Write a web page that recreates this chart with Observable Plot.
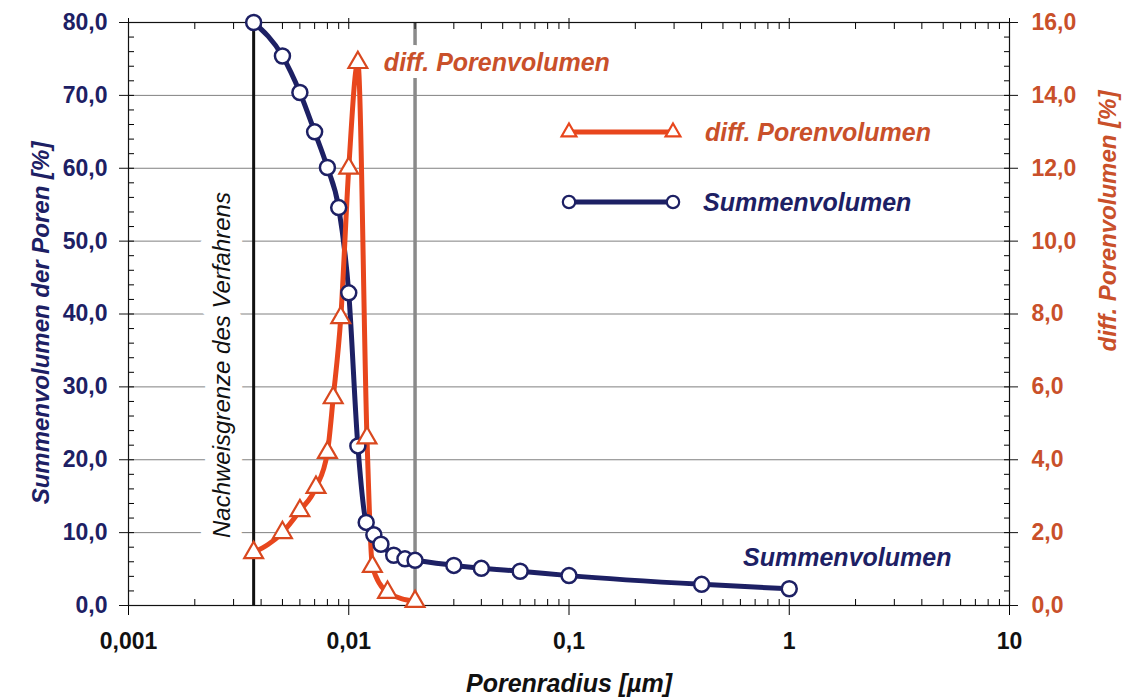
<!DOCTYPE html>
<html>
<head>
<meta charset="utf-8">
<script src="https://cdn.jsdelivr.net/npm/d3@7"></script>
<script src="https://cdn.jsdelivr.net/npm/@observablehq/plot@0.6"></script>
<style>
  html, body { margin: 0; padding: 0; background: #ffffff; }
  #wrap { position: relative; width: 1127px; height: 699px; font-family: "Liberation Sans", Arial, sans-serif; }
  #legend { position: absolute; left: 0; top: 0; pointer-events: none; }
</style>
</head>
<body>
<div id="wrap"><div id="chart"></div><svg id="legend" width="1127" height="699"></svg></div>
<script>
// ---- data ----
const summenRadius  = [0.0037, 0.005, 0.006, 0.007, 0.008, 0.009, 0.01, 0.011, 0.012, 0.013, 0.014, 0.016, 0.018, 0.02, 0.03, 0.04, 0.06, 0.1, 0.4, 1];
const summenVolumen = [80.0, 75.4, 70.4, 65.0, 60.1, 54.6, 42.9, 21.9, 11.4, 9.7, 8.4, 6.9, 6.4, 6.2, 5.5, 5.1, 4.7, 4.1, 2.9, 2.3];
const diffRadius    = [0.0037, 0.005, 0.006, 0.0071, 0.008, 0.0085, 0.0092, 0.01, 0.011, 0.0121, 0.0128, 0.015, 0.02];
const diffVolumen   = [1.45, 2.0, 2.6, 3.24, 4.2, 5.7, 7.9, 12.0, 14.9, 4.6, 1.07, 0.36, 0.11];
const xTicks        = [0.001, 0.01, 0.1, 1, 10];
const xTickLabels   = ["0,001", "0,01", "0,1", "1", "10"];
const leftTicks     = [0, 10, 20, 30, 40, 50, 60, 70, 80];
const rightTicks    = [0, 2, 4, 6, 8, 10, 12, 14, 16];
const nachweisgrenze = 0.0037;
const grauLinie      = 0.02;

const NAVY = "#1d2064";
const RED = "#e8461d";
const REDTXT = "#c9502a";
const ratio = leftTicks[leftTicks.length - 1] / rightTicks[rightTicks.length - 1]; // 5

const summen = summenRadius.map((r, i) => ({r, v: summenVolumen[i]}));
const diff = diffRadius.map((r, i) => ({r, v: diffVolumen[i] * ratio, raw: diffVolumen[i]}));
const peak = diff.reduce((a, b) => (b.v > a.v ? b : a));
const lastSum = summen[summen.length - 1];

// minor ticks
const minorX = [];
for (let e = -3; e < 1; e++) for (let k = 1; k <= 9; k++) minorX.push(k * Math.pow(10, e));
minorX.push(10);
const minorY = d3.range(0, 80.001, 2);

const fmt = d => d.toFixed(1).replace(".", ",");
const FONT = "Liberation Sans, Arial, sans-serif";

const chart = Plot.plot({
  width: 1127,
  height: 699,
  marginLeft: 128,
  marginRight: 118,
  marginTop: 22,
  marginBottom: 94,
  style: {fontFamily: FONT, background: "#ffffff", overflow: "visible"},
  x: {type: "log", domain: [0.001, 10]},
  y: {domain: [0, 80]},
  marks: [
    // horizontal grid
    Plot.ruleY(leftTicks.slice(1, -1), {stroke: "#808080", strokeWidth: 1}),
    // label "Nachweisgrenze" with white halo hiding the grid
    Plot.text(["Nachweisgrenze des Verfahrens"], {
      x: nachweisgrenze, y: 33, dx: -31, rotate: -90, text: d => d,
      fontSize: 24, fontStyle: "italic", fill: "#111", stroke: "#fff", strokeWidth: 24
    }),
    // vertical reference lines
    Plot.ruleX([grauLinie], {stroke: "#8a8a8a", strokeWidth: 3.5}),
    Plot.text(["diff. Porenvolumen"], {
      x: peak.r, y: peak.v, dx: 26, textAnchor: "start", text: d => d,
      fontSize: 25, fontWeight: "bold", fontStyle: "italic", fill: REDTXT, stroke: "#fff", strokeWidth: 14
    }),
    Plot.ruleX([nachweisgrenze], {stroke: "#111", strokeWidth: 3}),
    // axes
    Plot.axisX(xTicks, {anchor: "bottom", tickSize: 10, tickPadding: 17, tickFormat: d => xTickLabels[xTicks.indexOf(d)],
      fontSize: 23, fontWeight: "bold", fill: "#111", label: null}),
    Plot.axisX(minorX, {anchor: "bottom", tickSize: 6, dy: -6, tickFormat: () => "", label: null}),
    Plot.axisX(minorX, {anchor: "top", tickSize: 6, dy: 6, tickFormat: () => "", label: null}),
    Plot.axisX(xTicks, {anchor: "top", tickSize: 5, tickFormat: () => "", label: null}),
    Plot.axisY(leftTicks, {anchor: "left", tickSize: 9, tickPadding: 12, tickFormat: fmt,
      fontSize: 23, fontWeight: "bold", fill: NAVY, stroke: "#111", label: null}),
    Plot.axisY(minorY, {anchor: "left", tickSize: 6, dx: 6, tickFormat: () => "", label: null}),
    Plot.axisY(leftTicks, {anchor: "right", tickSize: 8, tickPadding: 14, tickFormat: d => fmt(d / ratio),
      fontSize: 23, fontWeight: "bold", fill: REDTXT, stroke: "#111", label: null}),
    Plot.axisY(minorY, {anchor: "right", tickSize: 6, dx: -6, tickFormat: () => "", label: null}),
    Plot.frame({stroke: "#111", strokeWidth: 1.2}),
    // axis titles
    Plot.text(["Porenradius [µm]"], {frameAnchor: "bottom", dy: 86, textAnchor: "middle", text: d => d,
      fontSize: 25, fontWeight: "bold", fontStyle: "italic", fill: "#111"}),
    Plot.text(["Summenvolumen der Poren [%]"], {frameAnchor: "left", dx: -87, dy: 9, rotate: -90, textAnchor: "middle", text: d => d,
      fontSize: 24, fontWeight: "bold", fontStyle: "italic", fill: NAVY}),
    Plot.text(["diff. Porenvolumen [%]"], {frameAnchor: "right", dx: 99, dy: -93, rotate: -90, textAnchor: "middle", text: d => d,
      fontSize: 24, fontWeight: "bold", fontStyle: "italic", fill: REDTXT}),
    // series
    Plot.line(summen, {x: "r", y: "v", stroke: NAVY, strokeWidth: 5, curve: "monotone-x"}),
    Plot.line(diff, {x: "r", y: "v", stroke: RED, strokeWidth: 5, curve: "monotone-x"}),
    Plot.dot(summen, {x: "r", y: "v", r: 7.5, fill: "#fff", stroke: NAVY, strokeWidth: 2.5}),
    Plot.dot(diff, {x: "r", y: "v", r: 7, symbol: "triangle", fill: "#fff", stroke: "#d9481f", strokeWidth: 2.2}),
    Plot.text(["Summenvolumen"], {x: lastSum.r, y: lastSum.v, dx: 58, dy: -31, textAnchor: "middle", text: d => d,
      fontSize: 25, fontWeight: "bold", fontStyle: "italic", fill: NAVY})
  ]
});
document.getElementById("chart").append(chart);

// ---- legend overlay ----
const lg = d3.select("#legend");
const legendItems = [
  {label: "diff. Porenvolumen", color: RED, text: REDTXT, symbol: d3.symbolTriangle, x0: 569, x1: 673, y: 132, tx: 705},
  {label: "Summenvolumen", color: NAVY, text: NAVY, symbol: d3.symbolCircle, x0: 569, x1: 673, y: 202, tx: 703}
];
for (const it of legendItems) {
  lg.append("line").attr("x1", it.x0).attr("x2", it.x1).attr("y1", it.y).attr("y2", it.y)
    .attr("stroke", it.color).attr("stroke-width", 5);
  for (const px of [it.x0, it.x1]) {
    lg.append("path").attr("d", d3.symbol(it.symbol, it.symbol === d3.symbolCircle ? 120 : 95)())
      .attr("transform", `translate(${px},${it.y})`)
      .attr("fill", "#fff").attr("stroke", it.color).attr("stroke-width", 2.2);
  }
  lg.append("text").attr("x", it.tx).attr("y", it.y).attr("dy", "0.35em")
    .attr("font-family", FONT).attr("font-size", 25).attr("font-weight", "bold").attr("font-style", "italic")
    .attr("fill", it.text).text(it.label);
}
</script>
</body>
</html>
